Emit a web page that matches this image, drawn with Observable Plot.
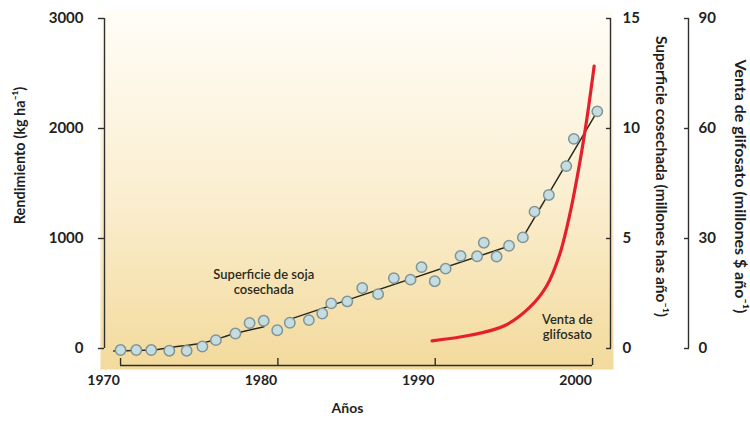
<!DOCTYPE html>
<html>
<head>
<meta charset="utf-8">
<script src="https://cdn.jsdelivr.net/npm/d3@7"></script>
<script src="https://cdn.jsdelivr.net/npm/@observablehq/plot@0.6"></script>
<style>
  html, body { margin: 0; padding: 0; background: #ffffff; overflow: hidden; }
</style>
</head>
<body>
<div id="chart"></div>
<script>
// ---- Data ----
// Superficie de soja cosechada (millones ha), points
const supYears = [1970.0, 1971.0, 1971.95, 1973.1, 1974.2, 1975.2, 1976.06, 1977.3, 1978.2, 1979.1,
  1979.96, 1980.76, 1981.97, 1982.82, 1983.39, 1984.41, 1985.36, 1986.37, 1987.37, 1988.43,
  1989.13, 1989.97, 1990.66, 1991.61, 1992.66, 1993.09, 1993.9, 1994.69, 1995.57, 1996.31,
  1997.22, 1998.33, 1998.81, 2000.3];
const supValues = [-0.07, -0.07, -0.07, -0.1, -0.1, 0.09, 0.38, 0.68, 1.16, 1.26,
  0.83, 1.17, 1.29, 1.59, 2.05, 2.14, 2.75, 2.47, 3.2, 3.13,
  3.7, 3.06, 3.63, 4.21, 4.19, 4.81, 4.18, 4.67, 5.05, 6.22,
  6.98, 8.29, 9.53, 10.78];

// Trend line segments (millones ha)
const trendSegment = [1, 1, 1, 1, 1, 1, 2, 2, 3, 3];
const trendYears = [1969.56, 1971.95, 1973.48, 1975.21, 1977.29, 1979.11, 1980.98, 1994.66, 1995.57, 2000.3];
const trendValues = [-0.11, -0.07, 0.08, 0.25, 0.68, 0.99, 1.38, 4.65, 5.05, 10.78];

// Venta de glifosato (millones $ / año)
const glyYears = [1989.8, 1992.2, 1994.4, 1996.0, 1997.1, 1997.9, 1998.55, 1999.2, 1999.65, 2000.1];
const glyValues = [2.1, 3.6, 6.2, 11.2, 17.2, 25.5, 36.5, 51, 63, 77];

// Axis ticks
const xTicks = [1970, 1980, 1990, 2000];
const rendTicks = [0, 1000, 2000, 3000];      // Rendimiento (kg/ha)
const supTicks = [0, 5, 10, 15];              // Superficie (millones ha)
const glyTicks = [0, 30, 60, 90];             // Glifosato (millones $)

// Labels
const titleRend = "Rendimiento (kg ha⁻¹)";
const titleSup = "Superficie cosechada (millones has año⁻¹)";
const titleGly = "Venta de glifosato (millones $ año⁻¹)";
const titleX = "Años";
const annotations = [
  {label: "Superficie de soja\ncosechada", year: 1979.1, value: 3.04},
  {label: "Venta de\nglifosato", year: 1998.4, value: 0.99}
];

// ---- Build tables ----
const supData = supYears.map((year, i) => ({year, value: supValues[i]}));
const trendData = trendYears.map((year, i) => ({year, value: trendValues[i], seg: trendSegment[i]}));
const glyData = glyYears.map((year, i) => ({year, value: glyValues[i]}));

const supMax = supTicks[supTicks.length - 1];
const rendToSup = supMax / rendTicks[rendTicks.length - 1];
const glyToSup = supMax / glyTicks[glyTicks.length - 1];

const xDomain = [1968.98, 2001.14];
const axisColor = "#2e2e2e";
const font = "Lato, 'Open Sans', sans-serif";
const thirdAxisOffset = 78;

const chart = Plot.plot({
  width: 750,
  height: 432,
  marginLeft: 104,
  marginRight: 140,
  marginTop: 18,
  marginBottom: 84,
  x: {domain: xDomain, axis: null},
  y: {domain: [0, supMax], axis: null},
  style: {fontFamily: font, background: "transparent", overflow: "visible", color: axisColor},
  marks: [
    Plot.frame({fill: "url(#bgGrad)", stroke: "none", insetLeft: -4, insetRight: -3, insetTop: -8, insetBottom: -21}),

    // Left axis (Rendimiento)
    Plot.ruleX([xDomain[0]], {y1: 0, y2: supMax, stroke: axisColor, strokeWidth: 1.4}),
    Plot.axisY(rendTicks.map(v => v * rendToSup), {anchor: "left", tickSize: 6, fill: "none", stroke: axisColor, strokeWidth: 1.4}),
    Plot.axisY(rendTicks.map(v => v * rendToSup), {anchor: "left", tickSize: 0, tickPadding: 21, label: null,
      tickFormat: (d, i) => String(rendTicks[i]), fontSize: 15, fontWeight: "bold", fill: "#222"}),

    // Right axis (Superficie)
    Plot.ruleX([xDomain[1]], {y1: 0, y2: supMax, stroke: axisColor, strokeWidth: 1.4}),
    Plot.axisY(supTicks, {anchor: "right", tickSize: 5, dx: -5, fill: "none", stroke: axisColor, strokeWidth: 1.4}),
    Plot.axisY(supTicks, {anchor: "right", tickSize: 0, tickPadding: 12, label: null,
      tickFormat: d => String(d), fontSize: 15, fontWeight: "bold", fill: "#222"}),

    // Third axis (Glifosato)
    Plot.ruleX([xDomain[1]], {y1: 0, y2: supMax, dx: thirdAxisOffset, stroke: axisColor, strokeWidth: 1.4}),
    Plot.axisY(glyTicks.map(v => v * glyToSup), {anchor: "right", tickSize: 5, dx: thirdAxisOffset - 5, fill: "none", stroke: axisColor, strokeWidth: 1.4}),
    Plot.axisY(glyTicks.map(v => v * glyToSup), {anchor: "right", tickSize: 0, tickPadding: 10, dx: thirdAxisOffset, label: null,
      tickFormat: (d, i) => String(glyTicks[i]), fontSize: 15, fontWeight: "bold", fill: "#222"}),

    // Bottom axis
    Plot.ruleY([0], {x1: xTicks[0], x2: xTicks[xTicks.length - 1], dy: 17, stroke: axisColor, strokeWidth: 1.4}),
    Plot.axisX(xTicks, {anchor: "bottom", tickSize: 7, dy: 10, fill: "none", stroke: axisColor, strokeWidth: 1.4}),
    Plot.axisX(xTicks, {anchor: "bottom", tickSize: 0, tickPadding: 27, dx: -17, label: null,
      tickFormat: d => String(d), fontSize: 14, fontWeight: "bold", fill: "#222"}),

    // Axis titles
    Plot.text([titleRend], {text: d => d, frameAnchor: "left", textAnchor: "middle", rotate: -90, dx: -84, dy: -28,
      fontSize: 14.5, fontWeight: "bold", fill: "#1e1e1e"}),
    Plot.text([titleSup], {text: d => d, frameAnchor: "right", textAnchor: "middle", rotate: 90, dx: 50, dy: -7,
      fontSize: 15.5, fontWeight: "bold", fill: "#1e1e1e"}),
    Plot.text([titleGly], {text: d => d, frameAnchor: "right", textAnchor: "middle", rotate: 90, dx: 130, dy: 3,
      fontSize: 16, fontWeight: "bold", fill: "#1e1e1e"}),
    Plot.text([titleX], {text: d => d, frameAnchor: "bottom", textAnchor: "middle", dy: 64, dx: -10,
      fontSize: 14, fontWeight: "bold", fill: "#1e1e1e"}),

    // Data
    Plot.line(trendData, {x: "year", y: "value", z: "seg", curve: "monotone-x", stroke: "#2a2a1c", strokeWidth: 1.5}),
    Plot.line(glyData, {x: "year", y: d => d.value * glyToSup, curve: "catmull-rom", stroke: "#e6202b", strokeWidth: 3.2}),
    Plot.dot(supData, {x: "year", y: "value", r: 5.2, fill: "#c5dce0", stroke: "#7f9597", strokeWidth: 1.5}),

    // Annotations
    Plot.text(annotations, {x: "year", y: "value", text: "label", fontSize: 13, lineHeight: 1.18,
      fill: "#2a2a22", fontWeight: 600})
  ]
});

// Background gradient definition
const ns = "http://www.w3.org/2000/svg";
const defs = document.createElementNS(ns, "defs");
const grad = document.createElementNS(ns, "linearGradient");
grad.setAttribute("id", "bgGrad");
grad.setAttribute("x1", "0"); grad.setAttribute("y1", "0");
grad.setAttribute("x2", "0"); grad.setAttribute("y2", "1");
[["0", "#fffdf7"], ["0.5", "#fbefd2"], ["1", "#f3da9c"]].forEach(([o, c]) => {
  const s = document.createElementNS(ns, "stop");
  s.setAttribute("offset", o);
  s.setAttribute("stop-color", c);
  grad.appendChild(s);
});
defs.appendChild(grad);
chart.insertBefore(defs, chart.firstChild);

document.getElementById("chart").appendChild(chart);
</script>
</body>
</html>
